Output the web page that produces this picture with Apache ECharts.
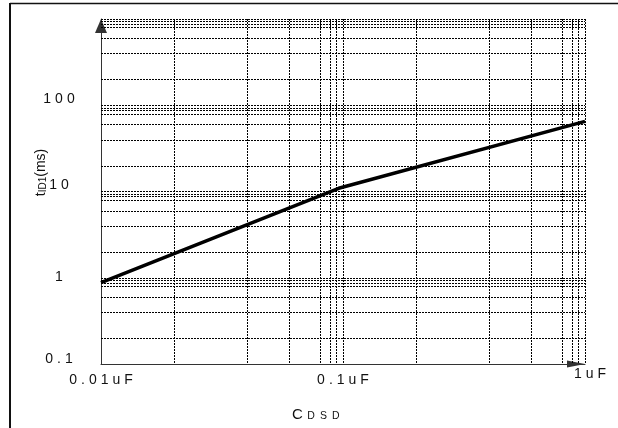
<!DOCTYPE html>
<html>
<head>
<meta charset="utf-8">
<script src="https://cdn.jsdelivr.net/npm/echarts@6/dist/echarts.min.js"></script>
<style>
html,body{margin:0;padding:0;background:#fff;}
#c{width:618px;height:428px;}
</style>
</head>
<body>
<div id="c"></div>
<script>
// ---- data ----
const xTicks = [0.01, 0.1, 1];
const xTickLabels = ['0.01uF', '0.1uF', '1uF'];
const yTicks = [0.1, 1, 10, 100];
const yTickLabels = ['0.1', '1', '10', '100'];
const capValues = [0.01, 0.096, 1];        // CDSD (uF)
const delayValues = [0.88, 10.9, 65];      // tID1 (ms)
const xGridDecades = [0.01, 0.1];
const yGridDecades = [0.1, 1, 10, 100];
const gridFactors = [2, 4, 6, 8, 8.8, 9.4, 10];

const FONT = 'Liberation Sans, Arial, sans-serif';
const xGridValues = [];
xGridDecades.forEach(d => gridFactors.forEach(f => xGridValues.push([d * f, 1])));
const yGridValues = [];
yGridDecades.forEach(d => gridFactors.forEach(f => yGridValues.push([0.1, d * f])));

function idx(list, v) {
  for (let i = 0; i < list.length; i++) {
    if (Math.abs(Math.log10(list[i]) - Math.log10(v)) < 1e-6) return i;
  }
  return -1;
}
function spaced(s, style, firstStyle) {
  return s.split('').map((c, i) => '{' + (i === 0 && firstStyle ? firstStyle : style) + '|' + c + '}').join('');
}
const charBase = { fontSize: 14, fontFamily: FONT, color: '#111' };

const gridLineStyle = { stroke: '#000', lineWidth: 1, lineDash: [2, 1] };

const chart = echarts.init(document.getElementById('c'), null, { renderer: 'canvas' });
chart.setOption({
  animation: false,
  backgroundColor: '#fff',
  grid: { left: 101, right: 33, top: 19, bottom: 64, containLabel: false },
  xAxis: {
    type: 'log', logBase: 10, min: 0.01, max: 1,
    axisLine: { show: true, onZero: false, lineStyle: { color: '#333', width: 1 },
      symbol: ['none', 'triangle'], symbolSize: [7, 18], symbolOffset: [0, -9] },
    axisTick: { show: false },
    splitLine: { show: false },
    minorSplitLine: { show: false },
    axisLabel: {
      showMinLabel: true, showMaxLabel: true, margin: 2,
      verticalAlign: 'top',
      formatter: v => {
        const i = idx(xTicks, v);
        if (i < 0) return '';
        if (i === xTicks.length - 1) return spaced(xTickLabels[i], 'e', 'ef');
        return spaced(xTickLabels[i], 'n');
      },
      rich: {
        n: Object.assign({}, charBase, { padding: [7, 2, 0, 2] }),
        e: Object.assign({}, charBase, { padding: [1, 2, 0, 2] }),
        ef: Object.assign({}, charBase, { padding: [1, 2, 0, 12] })
      }
    },
    name: '{c|C}' + spaced('DSD', 's'),
    nameLocation: 'middle',
    nameGap: 43,
    nameMoveOverlap: false,
    nameTextStyle: {
      padding: [0, 52, 0, 0],
      rich: {
        c: { fontSize: 15, fontFamily: FONT, color: '#111', verticalAlign: 'bottom', padding: [0, 2, 0, 0] },
        s: { fontSize: 10.5, fontFamily: FONT, color: '#111', verticalAlign: 'bottom', padding: [0, 2.5, 0, 2.5] }
      }
    }
  },
  yAxis: {
    type: 'log', logBase: 10, min: 0.1, max: 1000,
    axisLine: { show: true, onZero: false, lineStyle: { color: '#333', width: 1 },
      symbol: ['none', 'triangle'], symbolSize: [12, 14], symbolOffset: [0, -7] },
    axisTick: { show: false },
    splitLine: { show: false },
    minorSplitLine: { show: false },
    axisLabel: {
      showMinLabel: true, showMaxLabel: true, margin: 42, align: 'center',
      formatter: v => {
        const i = idx(yTicks, v);
        if (i < 0) return '';
        const shift = ['s5', 's1', 's7', 's7'][i];
        return spaced(yTickLabels[i], shift);
      },
      rich: {
        s1: Object.assign({}, charBase, { padding: [0, 2, 2, 2] }),
        s5: Object.assign({}, charBase, { padding: [0, 2, 9, 2] }),
        s7: Object.assign({}, charBase, { padding: [0, 2, 12, 2] })
      }
    },
    name: '{t|t}{s|ID1}{t|(ms)}',
    nameLocation: 'middle',
    nameRotate: 90,
    nameGap: 53,
    nameMoveOverlap: false,
    nameTextStyle: {
      padding: [0, 0, 0, 38],
      rich: {
        t: { fontSize: 14, fontFamily: FONT, color: '#111', verticalAlign: 'bottom' },
        s: { fontSize: 10, fontFamily: FONT, color: '#111', verticalAlign: 'bottom' }
      }
    }
  },
  graphic: [
    { type: 'line', shape: { x1: 10, y1: 3, x2: 10, y2: 428 }, style: { stroke: '#111', lineWidth: 2 }, z: 10 },
    { type: 'line', shape: { x1: 10, y1: 3.5, x2: 618, y2: 3.5 }, style: { stroke: '#111', lineWidth: 1.5 }, z: 10 }
  ],
  series: [
    {
      type: 'custom', silent: true, z: 1,
      data: xGridValues,
      encode: { x: 0, y: 1 },
      renderItem: (params, api) => {
        const cs = params.coordSys;
        const x = Math.round(api.coord([api.value(0), 1])[0]) + 0.5;
        return { type: 'line', shape: { x1: x, y1: cs.y, x2: x, y2: cs.y + cs.height }, style: gridLineStyle };
      }
    },
    {
      type: 'custom', silent: true, z: 1,
      data: yGridValues,
      encode: { x: 0, y: 1 },
      renderItem: (params, api) => {
        const cs = params.coordSys;
        const y = Math.round(api.coord([0.1, api.value(1)])[1]) + 0.5;
        return { type: 'line', shape: { x1: cs.x, y1: y, x2: cs.x + cs.width, y2: y }, style: gridLineStyle };
      }
    },
    {
      type: 'line', z: 5,
      data: capValues.map((c, i) => [c, delayValues[i]]),
      symbol: 'none',
      lineStyle: { color: '#000', width: 3.5 }
    }
  ]
});
</script>
</body>
</html>
